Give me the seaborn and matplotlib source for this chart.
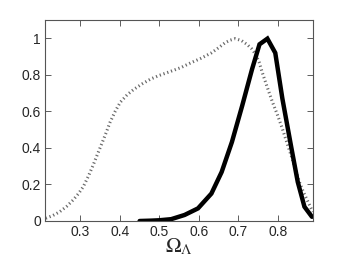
import numpy as np
import pandas as pd
import matplotlib
matplotlib.use("Agg")
import matplotlib.pyplot as plt
import seaborn as sns

# dotted (gray) curve
omega_dot = [0.212, 0.230, 0.247, 0.265, 0.281, 0.295, 0.307, 0.320, 0.332, 0.343,
             0.354, 0.365, 0.375, 0.388, 0.401, 0.418, 0.435, 0.456, 0.478, 0.500,
             0.521, 0.540, 0.555, 0.581, 0.605, 0.632, 0.650, 0.667, 0.680, 0.692,
             0.708, 0.722, 0.734, 0.744, 0.753, 0.761, 0.774, 0.787, 0.800, 0.812,
             0.823, 0.834, 0.845, 0.855, 0.866, 0.877, 0.889]
like_dot = [0.015, 0.030, 0.050, 0.080, 0.114, 0.150, 0.187, 0.245, 0.305, 0.365,
            0.423, 0.483, 0.540, 0.600, 0.650, 0.690, 0.720, 0.750, 0.777, 0.797,
            0.813, 0.828, 0.840, 0.867, 0.890, 0.920, 0.948, 0.976, 0.990, 0.998,
            0.988, 0.967, 0.943, 0.913, 0.870, 0.813, 0.730, 0.650, 0.578, 0.505,
            0.432, 0.360, 0.287, 0.214, 0.155, 0.105, 0.050]

# solid (black) curve
omega_solid = [0.450, 0.480, 0.500, 0.530, 0.564, 0.598, 0.632, 0.658, 0.684, 0.710,
               0.735, 0.754, 0.774, 0.794, 0.812, 0.834, 0.851, 0.868, 0.887]
like_solid = [0.000, 0.002, 0.004, 0.010, 0.033, 0.069, 0.150, 0.268, 0.432, 0.630,
              0.830, 0.967, 0.998, 0.920, 0.670, 0.410, 0.214, 0.078, 0.023]

x_ticks = [0.3, 0.4, 0.5, 0.6, 0.7, 0.8]
y_ticks = [0, 0.2, 0.4, 0.6, 0.8, 1]
y_labels = ["0", "0.2", "0.4", "0.6", "0.8", "1"]

sns.set_style("ticks")
plt.rcParams["font.family"] = ["Liberation Sans", "DejaVu Sans"]
plt.rcParams["mathtext.fontset"] = "stix"

fig = plt.figure(figsize=(3.46, 2.6), dpi=100)
ax = fig.add_axes([0.130, 0.150, 0.775, 0.773])

dot_df = pd.DataFrame({"omega": omega_dot, "like": like_dot})
solid_df = pd.DataFrame({"omega": omega_solid, "like": like_solid})

sns.lineplot(data=dot_df, x="omega", y="like", ax=ax, color="#6a6a6a",
             linewidth=2.2, linestyle=(0, (0.4, 0.9)), sort=False)
sns.lineplot(data=solid_df, x="omega", y="like", ax=ax, color="black",
             linewidth=3.2, sort=False, solid_joinstyle="miter")

ax.set_xlim(0.21, 0.89)
ax.set_ylim(0, 1.1)
ax.set_xticks(x_ticks)
ax.set_xticklabels([f"{t:.1f}" for t in x_ticks])
ax.set_yticks(y_ticks)
ax.set_yticklabels(y_labels)
ax.tick_params(direction="in", length=4, width=0.6, color="#444444",
               labelsize=10, top=True, right=True, pad=3)
for s in ax.spines.values():
    s.set_visible(True)
    s.set_color("#555555")
    s.set_linewidth(0.8)

ax.set_ylabel("")
ax.set_xlabel(r"$\Omega_\Lambda$", fontsize=15, labelpad=-2)

fig.savefig("out.png", dpi=100)
